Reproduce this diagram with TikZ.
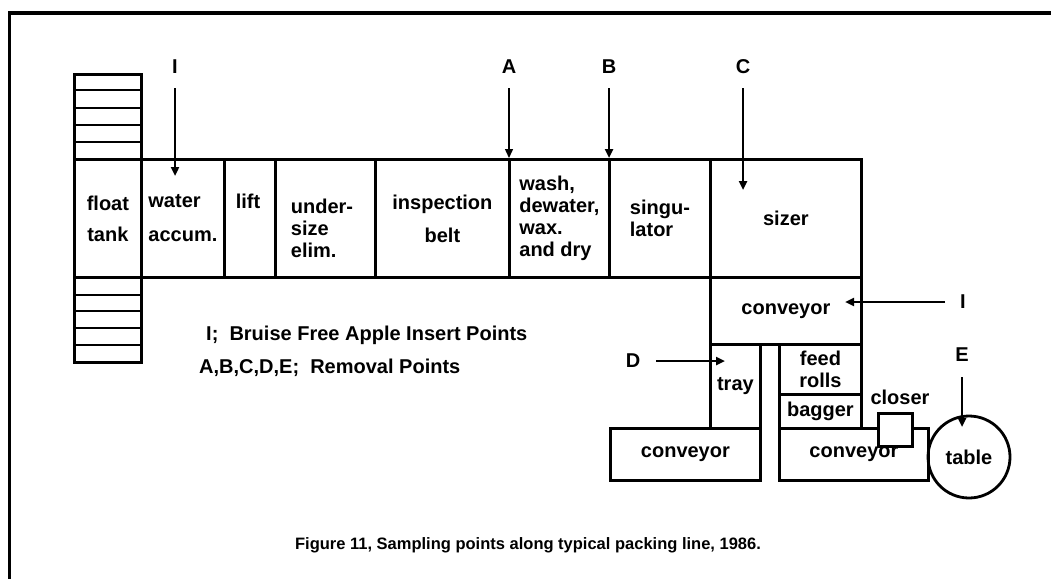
\documentclass[tikz,border=0pt]{standalone}
\usepackage{fontspec}
\setmainfont{Liberation Sans}
\usetikzlibrary{arrows.meta, positioning}
\newcommand{\unitfont}{\bfseries\fontsize{20}{22}\selectfont}

\begin{document}
\begin{tikzpicture}[x=1pt, y=-1pt, font=\unitfont]
    % Define styles
    \tikzstyle{unit} = [rectangle, draw=black, line width=2.8pt, inner sep=0pt, anchor=north west, align=left]
    \tikzstyle{pointlabel} = [inner sep=2pt]
    \tikzstyle{sample} = [-{Triangle[length=9pt, width=8pt]}, line width=2.4pt]

    \useasboundingbox (0,0) rectangle (1051,579);

    % Frame
    \draw[line width=4pt] (8,13) -- (1051,13);
    \draw[line width=3pt] (9,13) -- (9,579);

    % Float tank
    \node[unit, minimum width=67, minimum height=85] (tanktop) at (73,73) {};
    \node[unit, minimum width=67, minimum height=118, align=center] (tank) at (73,158) {float\\[9pt]tank};
    \node[unit, minimum width=67, minimum height=85] (tankbot) at (73,276) {};
    \foreach \y in {90,108,125,142} \draw[line width=2.8pt] (73,\y) -- (140,\y);
    \foreach \y in {295,311,328,345} \draw[line width=2.8pt] (73,\y) -- (140,\y);

    % Main line
    \node[unit, minimum width=83, minimum height=118] (water) at (140,158) {water\\[12pt]accum.};
    \node[unit, minimum width=51, minimum height=118] (lift) at (223,158) {};
    \node (lifttext) at (248,201) {lift};
    \node[unit, minimum width=100, minimum height=118] (undersize) at (274,158) {};
    \node[align=left] (undersizetext) at (322,228) {under-\\size\\elim.};
    \node[unit, minimum width=134, minimum height=118, align=center] (inspection) at (374,158) {inspection\\[11pt]belt};
    \node[unit, minimum width=100, minimum height=118] (wash) at (508,158) {wash,\\dewater,\\wax.\\and dry};
    \node[unit, minimum width=101, minimum height=118] (singulator) at (608,158) {singu-\\lator};
    \node[unit, minimum width=151, minimum height=118] (sizer) at (709,158) {sizer};

    % Packing end
    \node[unit, minimum width=151, minimum height=67] (conv) at (709,276) {conveyor};
    \node[unit, minimum width=50, minimum height=84] (tray) at (709,343) {tray};
    \node[unit, minimum width=150, minimum height=52] (convleft) at (609,427) {conveyor};
    \node[unit, minimum width=82, minimum height=50, align=center] (feed) at (778,343) {feed\\rolls};
    \node[unit, minimum width=82, minimum height=34] (bagger) at (778,393) {bagger};
    \node[unit, minimum width=149, minimum height=52] (convright) at (778,427) {conveyor};
    \node[unit, fill=white, minimum width=34, minimum height=33] (closer) at (877,412) {};
    \node (closertext) at (900,397) {closer};
    \node[circle, draw, line width=2.8pt, minimum size=82, inner sep=0pt] (table) at (969,457) {table};

    % Sampling points
    \node[pointlabel] (ins1) at (175,67) {I};
    \coordinate (ins1tip) at (175,176);
    \draw[sample, line width=2.8pt, shorten <=12pt] (ins1) -- (ins1tip);

    \node[pointlabel] (remA) at (509,67) {A};
    \coordinate (remAtip) at (509,158);
    \draw[sample, line width=1.4pt, shorten <=12pt] (remA) -- (remAtip);

    \node[pointlabel] (remB) at (609,67) {B};
    \coordinate (remBtip) at (609,158);
    \draw[sample, line width=2.8pt, shorten <=12pt] (remB) -- (remBtip);

    \node[pointlabel] (remC) at (743,67) {C};
    \coordinate (remCtip) at (743,190);
    \draw[sample, shorten <=12pt] (remC) -- (remCtip);

    \node[pointlabel] (ins2) at (963,302) {I};
    \coordinate (ins2tip) at (845,302);
    \draw[sample, shorten <=13pt] (ins2) -- (ins2tip);

    \node[pointlabel] (remD) at (633,361) {D};
    \coordinate (remDtip) at (725,361);
    \draw[sample, shorten <=14pt] (remD) -- (remDtip);

    \node[pointlabel] (remE) at (962,355) {E};
    \coordinate (remEtip) at (962,427);
    \draw[sample, shorten <=13pt] (remE) -- (remEtip);

    % Legend and caption
    \node[anchor=west, inner sep=0pt] (legins) at (206,335) {I;\ \ Bruise Free Apple Insert Points};
    \node[anchor=west, inner sep=0pt] (legrem) at (199,368) {A,B,C,D,E;\ \ Removal Points};
    \node[font=\bfseries\fontsize{16.5}{19}\selectfont] (caption) at (528,545) {Figure 11, Sampling points along typical packing line, 1986.};
\end{tikzpicture}
\end{document}
